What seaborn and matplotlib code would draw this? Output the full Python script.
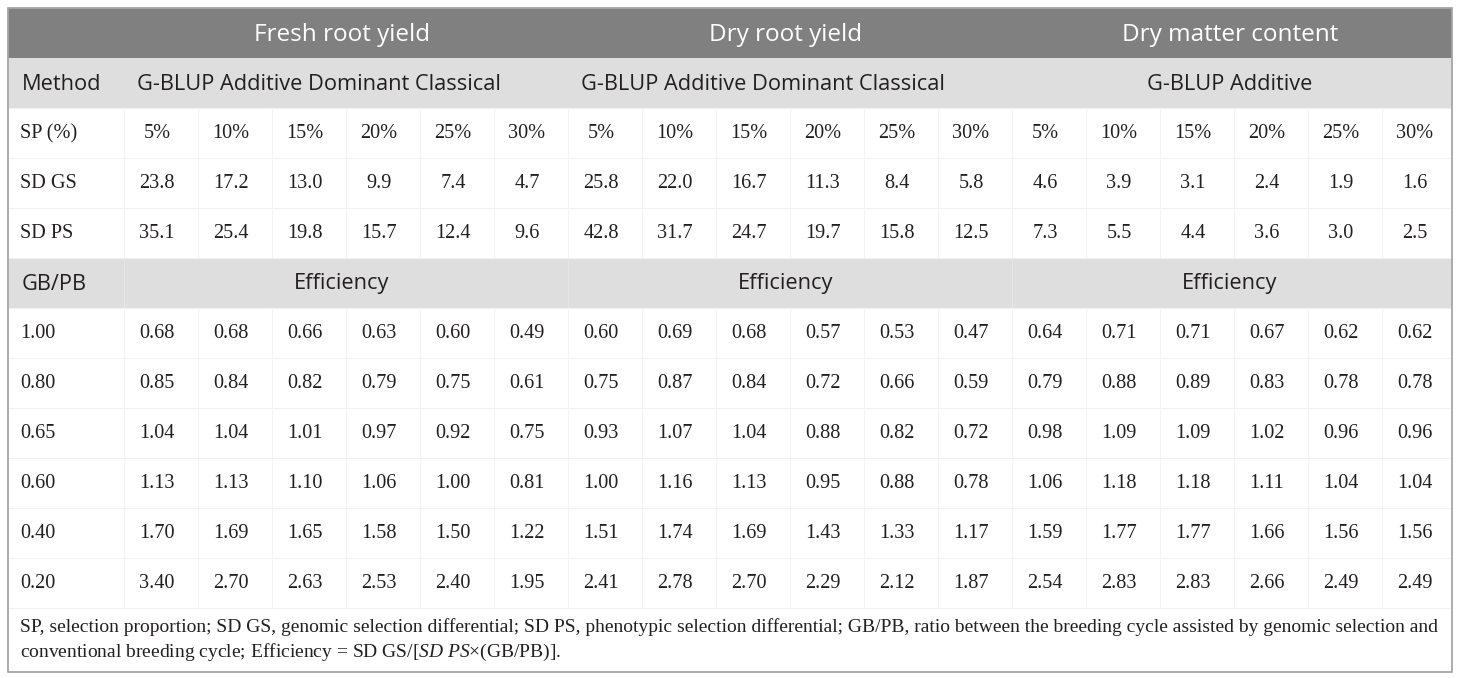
import numpy as np
import matplotlib
matplotlib.use("Agg")
import matplotlib.pyplot as plt
import seaborn as sns
from matplotlib.colors import ListedColormap
from matplotlib.patches import Rectangle

# -----------------------------------------------------------
# DATA
# -----------------------------------------------------------
traits = ["Fresh root yield", "Dry root yield", "Dry matter content"]
methods = ["G-BLUP Additive Dominant Classical",
           "G-BLUP Additive Dominant Classical",
           "G-BLUP Additive"]
sp_labels = ["5%", "10%", "15%", "20%", "25%", "30%"]

sd_gs_fresh = [23.8, 17.2, 13.0, 9.9, 7.4, 4.7]
sd_gs_dry = [25.8, 22.0, 16.7, 11.3, 8.4, 5.8]
sd_gs_dm = [4.6, 3.9, 3.1, 2.4, 1.9, 1.6]

sd_ps_fresh = [35.1, 25.4, 19.8, 15.7, 12.4, 9.6]
sd_ps_dry = [42.8, 31.7, 24.7, 19.7, 15.8, 12.5]
sd_ps_dm = [7.3, 5.5, 4.4, 3.6, 3.0, 2.5]

gb_pb = ["1.00", "0.80", "0.65", "0.60", "0.40", "0.20"]

eff_fresh = [
    [0.68, 0.68, 0.66, 0.63, 0.60, 0.49],
    [0.85, 0.84, 0.82, 0.79, 0.75, 0.61],
    [1.04, 1.04, 1.01, 0.97, 0.92, 0.75],
    [1.13, 1.13, 1.10, 1.06, 1.00, 0.81],
    [1.70, 1.69, 1.65, 1.58, 1.50, 1.22],
    [3.40, 2.70, 2.63, 2.53, 2.40, 1.95],
]
eff_dry = [
    [0.60, 0.69, 0.68, 0.57, 0.53, 0.47],
    [0.75, 0.87, 0.84, 0.72, 0.66, 0.59],
    [0.93, 1.07, 1.04, 0.88, 0.82, 0.72],
    [1.00, 1.16, 1.13, 0.95, 0.88, 0.78],
    [1.51, 1.74, 1.69, 1.43, 1.33, 1.17],
    [2.41, 2.78, 2.70, 2.29, 2.12, 1.87],
]
eff_dm = [
    [0.64, 0.71, 0.71, 0.67, 0.62, 0.62],
    [0.79, 0.88, 0.89, 0.83, 0.78, 0.78],
    [0.98, 1.09, 1.09, 1.02, 0.96, 0.96],
    [1.06, 1.18, 1.18, 1.11, 1.04, 1.04],
    [1.59, 1.77, 1.77, 1.66, 1.56, 1.56],
    [2.54, 2.83, 2.83, 2.66, 2.49, 2.49],
]

note_line1 = ("SP, selection proportion; SD GS, genomic selection differential; "
              "SD PS, phenotypic selection differential; GB/PB, ratio between the "
              "breeding cycle assisted by genomic selection and")
note_line2 = (r"conventional breeding cycle; Efficiency = SD GS/[$\mathit{SD\ PS}$"
              "\u00d7(GB/PB)].")

# row type per table row: 2 = dark header, 1 = light band, 0 = white
row_types = [2, 1, 0, 0, 0, 1, 0, 0, 0, 0, 0, 0]

# -----------------------------------------------------------
# STYLE
# -----------------------------------------------------------
sns.set_theme(style="white")
SANS = ["Open Sans", "DejaVu Sans"]
SERIF = ["Liberation Serif", "DejaVu Serif"]
plt.rcParams["font.family"] = SERIF
plt.rcParams["mathtext.fontset"] = "custom"
plt.rcParams["mathtext.rm"] = "Liberation Serif"
plt.rcParams["mathtext.it"] = "Liberation Serif:italic"

W, H = 1460, 678
left, right, top = 8, 1452, 8
row_h = 50
label_w = 112
n_cols = 18
col_w = (right - left - label_w) / n_cols
x0 = left + label_w
TXT = "#231f20"
FS_HEAD = 17.5
FS_SANS = 15.7
FS_NUM = 14.6

fig = plt.figure(figsize=(W / 100, H / 100), dpi=100)

# row bands drawn as a one-column heatmap
ax_bg = fig.add_axes([left / W, 1 - (top + row_h * len(row_types)) / H,
                      (right - left) / W, row_h * len(row_types) / H])
sns.heatmap(np.array(row_types).reshape(-1, 1), ax=ax_bg,
            cmap=ListedColormap(["#ffffff", "#dedede", "#808080"]),
            vmin=-0.5, vmax=2.5, cbar=False,
            xticklabels=False, yticklabels=False)

# overlay in pixel coordinates
ax = fig.add_axes([0, 0, 1, 1])
ax.set_xlim(0, W)
ax.set_ylim(H, 0)
ax.axis("off")
ax.patch.set_alpha(0)


def row_y(i):
    return top + row_h * i + row_h / 2 + 1


def col_x(j):
    return x0 + col_w * (j + 0.5)


# faint grid lines
for i in range(2, len(row_types) + 1):
    ax.plot([left, right], [top + row_h * i] * 2, color="#f1f1f1", lw=0.8, zorder=1)
for j in range(0, n_cols):
    xb = x0 + col_w * j + 4
    for i in range(2, len(row_types)):
        if row_types[i] == 0 or j % 6 == 0:
            ax.plot([xb, xb], [top + row_h * i, top + row_h * (i + 1)],
                    color="#f4f4f4" if row_types[i] == 0 else "#e6e6e6",
                    lw=0.8, zorder=1)

# header row
for g, trait in enumerate(traits):
    cx = x0 + col_w * 6 * (g + 0.5)
    ax.text(cx, row_y(0) + 1, trait, family=SANS, fontsize=FS_HEAD, color="white",
            ha="center", va="center")

# method row
ax.text(22, row_y(1), "Method", family=SANS, fontsize=FS_SANS, color=TXT,
        ha="left", va="center")
for g, m in enumerate(methods):
    if g < 2:
        ax.text(x0 + col_w * 6 * g + 17, row_y(1), m, family=SANS, fontsize=FS_SANS,
                color=TXT, ha="left", va="center")
    else:
        ax.text(x0 + col_w * 6 * (g + 0.5), row_y(1), m, family=SANS,
                fontsize=FS_SANS, color=TXT, ha="center", va="center")

# SP / SD rows
blocks = [
    ("SP (%)", [sp_labels, sp_labels, sp_labels], None),
    ("SD GS", [sd_gs_fresh, sd_gs_dry, sd_gs_dm], "{:.1f}"),
    ("SD PS", [sd_ps_fresh, sd_ps_dry, sd_ps_dm], "{:.1f}"),
]
for r, (lab, groups, fmt) in enumerate(blocks):
    y = row_y(2 + r)
    ax.text(20, y, lab, fontsize=FS_NUM, color=TXT, ha="left", va="center")
    for g, vals in enumerate(groups):
        for k, v in enumerate(vals):
            s = v if fmt is None else fmt.format(v)
            ax.text(col_x(6 * g + k), y, s, fontsize=FS_NUM, color=TXT,
                    ha="center", va="center")

# efficiency band
ax.text(22, row_y(5), "GB/PB", family=SANS, fontsize=FS_SANS, color=TXT,
        ha="left", va="center")
for g in range(3):
    ax.text(x0 + col_w * 6 * (g + 0.5), row_y(5), "Efficiency", family=SANS,
            fontsize=FS_SANS, color=TXT, ha="center", va="center")

# efficiency values
for r, lab in enumerate(gb_pb):
    y = row_y(6 + r)
    ax.text(20, y, lab, fontsize=FS_NUM, color=TXT, ha="left", va="center")
    for g, tab in enumerate([eff_fresh, eff_dry, eff_dm]):
        for k, v in enumerate(tab[r]):
            ax.text(col_x(6 * g + k), y, f"{v:.2f}", fontsize=FS_NUM, color=TXT,
                    ha="center", va="center")

# footnote, stretched to the table width
fn1 = ax.text(20, 627, note_line1, fontsize=12.5, color=TXT, ha="left", va="center")
fn2 = ax.text(20, 652, note_line2, fontsize=12.5, color=TXT, ha="left", va="center")
renderer = fig.canvas.get_renderer()
w1 = fn1.get_window_extent(renderer).width
fs = 12.5 * 1418 / w1
fn1.set_fontsize(fs)
fn2.set_fontsize(fs)

# outer border
ax.add_patch(Rectangle((left, top), right - left, 672 - top, fill=False,
                       edgecolor="#a6a6a6", lw=1.3, zorder=5))

fig.savefig("out.png", dpi=100)
plt.close(fig)
